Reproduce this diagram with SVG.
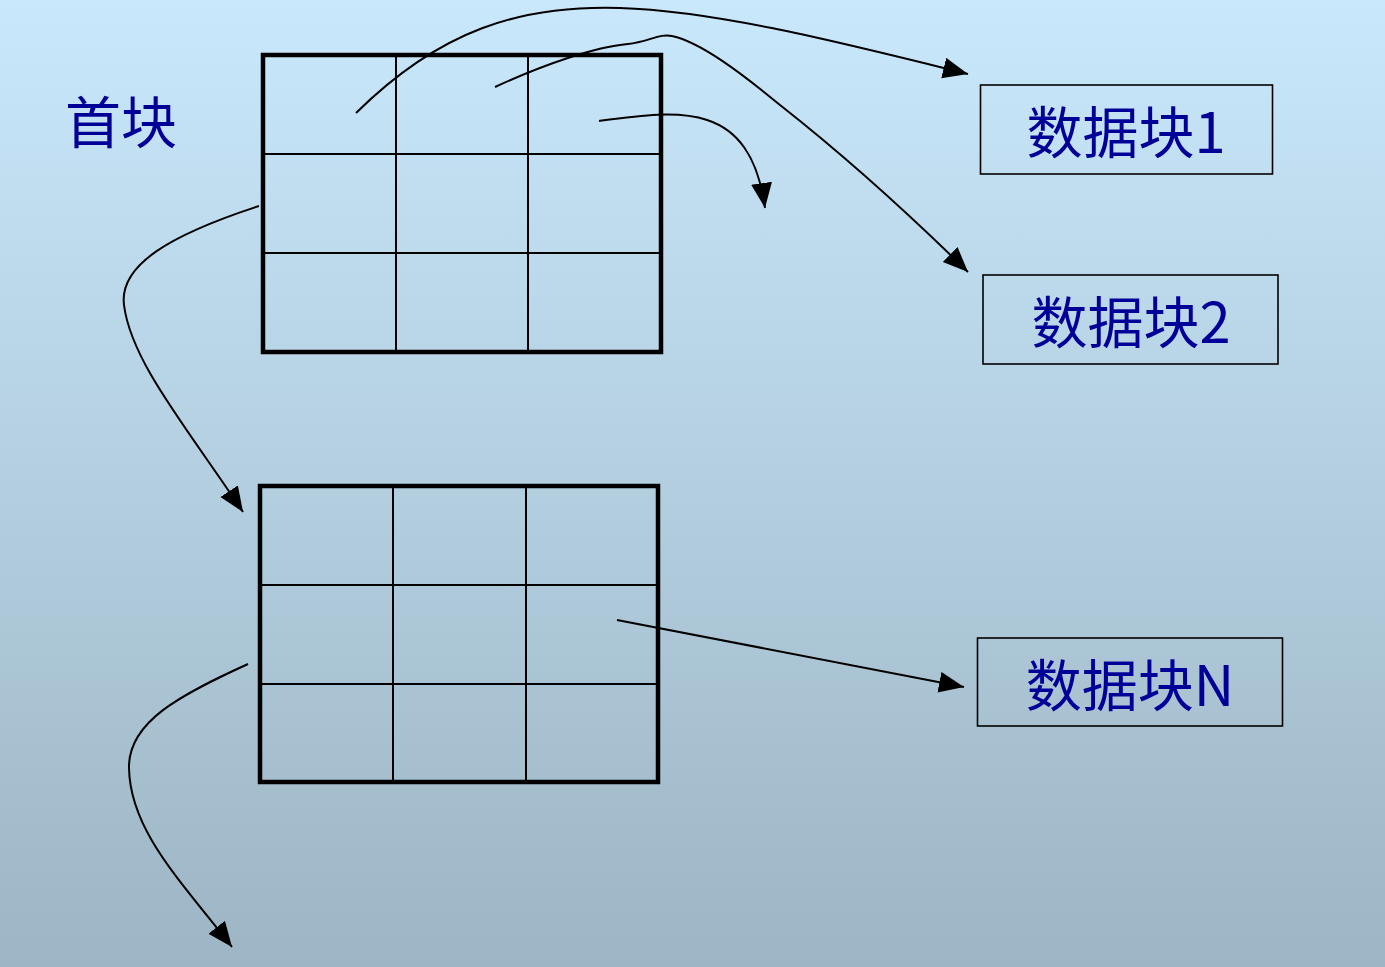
<svg xmlns="http://www.w3.org/2000/svg" width="1385" height="967" viewBox="0 0 1385 967">
<defs>
<linearGradient id="bg" x1="0" y1="0" x2="0" y2="1">
<stop offset="0" stop-color="#c9e8fb"/>
<stop offset="1" stop-color="#9db5c4"/>
</linearGradient>
<marker id="arr" markerUnits="userSpaceOnUse" markerWidth="26" markerHeight="22" refX="25" refY="10.5" orient="auto">
<path d="M0,0 L25,10.5 L0,21 z" fill="#000"/>
</marker>
<style>
.outer{fill:none;stroke:#000;stroke-width:4.5}
.inner{stroke:#000;stroke-width:2}
.box{fill:none;stroke:#000;stroke-width:1.6}
.lbl{font-family:"Noto Sans CJK SC","Liberation Sans",sans-serif;font-size:56px;fill:#000099}
.c{fill:none;stroke:#000;stroke-width:2;marker-end:url(#arr)}
</style>
</defs>
<rect x="0" y="0" width="1385" height="967" fill="url(#bg)"/>
<g id="label-head"><text class="lbl" x="65" y="143">首块</text></g>
<g id="index-block-1">
<rect class="outer" x="263" y="55" width="398" height="297"/>
<line class="inner" x1="396" y1="55" x2="396" y2="352"/>
<line class="inner" x1="528" y1="55" x2="528" y2="352"/>
<line class="inner" x1="263" y1="154" x2="661" y2="154"/>
<line class="inner" x1="263" y1="253" x2="661" y2="253"/>
</g>
<g id="index-block-2">
<rect class="outer" x="260" y="486" width="398" height="296"/>
<line class="inner" x1="393" y1="486" x2="393" y2="782"/>
<line class="inner" x1="526" y1="486" x2="526" y2="782"/>
<line class="inner" x1="260" y1="585" x2="658" y2="585"/>
<line class="inner" x1="260" y1="684" x2="658" y2="684"/>
</g>
<g id="data-block-1">
<rect class="box" x="980.5" y="85" width="292" height="89"/>
<text class="lbl" x="1126" y="153" text-anchor="middle">数据块1</text>
</g>
<g id="data-block-2">
<rect class="box" x="983" y="275" width="295" height="89"/>
<text class="lbl" x="1131" y="343" text-anchor="middle">数据块2</text>
</g>
<g id="data-block-n">
<rect class="box" x="977.5" y="638" width="305" height="88"/>
<text class="lbl" x="1130" y="706" text-anchor="middle">数据块N</text>
</g>
<g id="connectors">
<path class="c" d="M356,113 C440,30 520,5 620,8 C720,11 850,45 968,74"/>
<path class="c" d="M495,87 C545,64 595,47 628,44 C648,42 660,33 672,36 C700,42 740,72 780,105 C850,160 910,215 968,272"/>
<path class="c" d="M599,121 C680,110 750,100 765,208"/>
<path class="c" d="M259,206 C170,235 119,265 124,305 C131,361 185,425 243,512"/>
<path class="c" d="M248,664 C180,695 128,722 129,768 C130,830 180,880 232,947"/>
<path class="c" d="M617,620 L964,687"/>
</g>
</svg>
